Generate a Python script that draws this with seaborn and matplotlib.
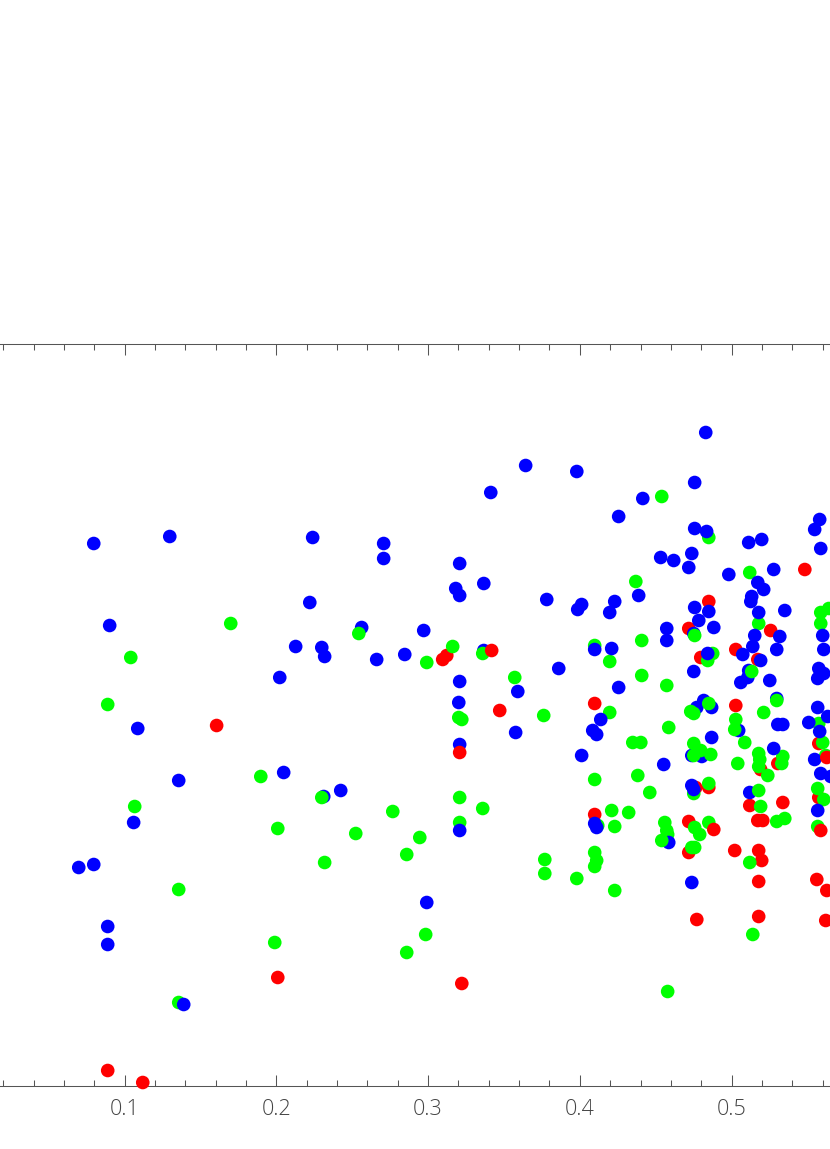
import matplotlib
matplotlib.use("Agg")
import matplotlib.pyplot as plt
import pandas as pd
import seaborn as sns

red_x = [.5483,.485,.4718,.5258,.5028,.4797,.5173,.5028,.5575,.5192,.5305,.4764,.485,.512,.5338,.5575,.4718,.5173,.5206,.4718,.5021,.5179,.5199,.5179,.5562,.5628,.4771,.5179,.5621,.3123,.3096,.1606,.3472,.4098,.4098,.2009,.3222,.0888,.1119]
red_y = [516,484,457,455,436,428,426,380,342,316,322,298,298,280,283,288,264,265,265,233,235,235,225,204,206,195,166,169,165,430,426,360,375,382,271,108,102,15,3]
red_top_x = [.3419,.3208,.5628,.5588,.4883]
red_top_y = [435,333,328,255,256]

green_x = [.485,.454,.512,.4369,.5588,.5641,.5588,.5179,.4408,.4843,.4876,.4408,.4573,.5212,.5575,.4586,.5087,.4402,.4349,.5601,.5179,.5186,.5179,.5239,.5338,.5331,.5041,.5621,.4382,.4461,.4322,.4751,.485,.5192,.5568,.5608,.5568,.456,.4573,.4579,.4757,.479,.485,.5298,.5351,.4738,.4757,.512,.514,.3162,.2991,.4098,.4197,.3571,.3202,.3222,.3762,.4197,.4098,.3208,.336,.3208,.421,.4118,.423,.4098,.4111,.4098,.3769,.3769,.398,.423,.1699,.104,.0888,.1897,.1066,.2767,.2009,.2523,.2945,.2318,.2859,.1356,.1989,.2984,.2859,.1356,.4579]
green_y = [548,589,513,504,473,477,462,462,445,425,432,410,400,373,362,358,343,343,343,343,332,326,319,310,329,322,322,330,310,293,273,292,302,279,297,286,259,263,255,251,258,251,263,264,267,238,238,223,151,439,423,440,424,408,368,366,370,373,306,288,277,263,275,260,259,233,225,219,226,212,207,195,462,428,381,309,279,274,257,252,248,223,231,196,143,151,133,83,94]
green_top_x = [.2543,.2299,.4757,.5133,.5298,.485,.4731,.4751,.5021,.5028,.454,.4751,.4751,.4797,.4863,.5179,.336]
green_top_y = [452,288,450,414,385,382,374,372,356,366,245,342,330,335,331,295,432]

blue_x = [.4415,.4757,.4836,.5113,.5199,.5581,.5548,.5588,.4533,.4619,.4738,.4718,.4982,.5278,.4388,.5173,.5212,.5133,.5127,.4757,.485,.5179,.5351,.4784,.4883,.4751,.4573,.4573,.5318,.5153,.514,.5298,.5601,.5608,.5074,.4843,.5192,.4751,.5113,.5107,.5061,.5252,.5575,.5608,.5568,.5588,.4817,.4771,.4869,.5298,.5568,.5634,.5509,.5581,.5047,.5305,.5338,.4869,.5278,.4738,.4804,.5548,.5588,.5654,.4553,.4738,.4751,.512,.5568,.4586,.4738,.3643,.398,.3413,.4256,.483,.4757,.3208,.3182,.3208,.3367,.3782,.4012,.3986,.423,.4197,.3367,.4098,.421,.3861,.3208,.3202,.3208,.3591,.3577,.4256,.4138,.4085,.4111,.4012,.3208,.4098,.4111,.2991,.2239,.2707,.2707,.222,.2562,.2971,.2127,.2299,.2318,.2661,.2846,.2022,.2048,.0796,.1297,.0901,.1086,.1356,.2312,.2424,.1059,.0697,.0796,.0888,.0888,.1389]
blue_y = [587,557,554,543,546,566,556,537,528,525,532,518,511,516,490,503,496,489,484,478,474,473,475,465,458,452,457,445,449,450,439,436,450,436,431,432,425,414,415,408,403,405,417,412,407,412,385,378,378,387,378,369,363,354,355,361,361,348,337,330,329,326,312,309,321,300,296,293,275,243,203,620,614,593,569,653,603,522,497,490,502,486,481,476,484,473,435,436,437,417,404,383,341,394,353,398,366,355,351,330,255,262,258,183,548,542,527,483,458,455,439,438,429,426,431,408,313,542,549,460,357,305,289,295,263,218,221,159,141,81]

x_ticks = [0.1, 0.2, 0.3, 0.4, 0.5]
x_tick_labels = ["0.1", "0.2", "0.3", "0.4", "0.5"]
x_minor = [0.02, 0.04, 0.06, 0.08, 0.12, 0.14, 0.16, 0.18, 0.22, 0.24, 0.26, 0.28,
           0.32, 0.34, 0.36, 0.38, 0.42, 0.44, 0.46, 0.48, 0.52, 0.54, 0.56]

layers = [("red", red_x, red_y), ("green", green_x, green_y), ("blue", blue_x, blue_y),
          ("green", green_top_x, green_top_y), ("red", red_top_x, red_top_y)]
df = pd.concat([pd.DataFrame({"x": xs, "y": ys, "series": name}) for name, xs, ys in layers],
               ignore_index=True)

sns.set_theme(style="white")
W, H = 830, 1149
fig = plt.figure(figsize=(W / 100, H / 100), dpi=100, facecolor="white")
ax = fig.add_axes([0, (H - 1085.5) / H, 1, (1085.5 - 344) / H])

sns.scatterplot(data=df, x="x", y="y", hue="series",
                palette={"red": "#ff0000", "green": "#00ff00", "blue": "#0000ff"},
                s=96, linewidth=0, legend=False, clip_on=False, ax=ax, zorder=5)

ax.set_xlim(0.0178, 0.5649)
ax.set_ylim(0, 741.5)
ax.set_xlabel("")
ax.set_ylabel("")
ax.set_yticks([])
ax.set_xticks(x_ticks)
ax.set_xticklabels(x_tick_labels, family=["Open Sans", "DejaVu Sans"], fontweight="light",
                   fontsize=15.5, color="#444444")
ax.set_xticks(x_minor, minor=True)
ax.tick_params(axis="x", which="major", direction="in", length=8, width=0.75, color="#555555",
               top=True, bottom=True, pad=9.5)
ax.tick_params(axis="x", which="minor", direction="in", length=4.3, width=0.75, color="#555555",
               top=True, bottom=True)
ax.set_facecolor("white")
for side in ("left", "right"):
    ax.spines[side].set_visible(False)
for side in ("top", "bottom"):
    ax.spines[side].set_color("#555555")
    ax.spines[side].set_linewidth(0.75)

fig.savefig("out.png", dpi=100)
